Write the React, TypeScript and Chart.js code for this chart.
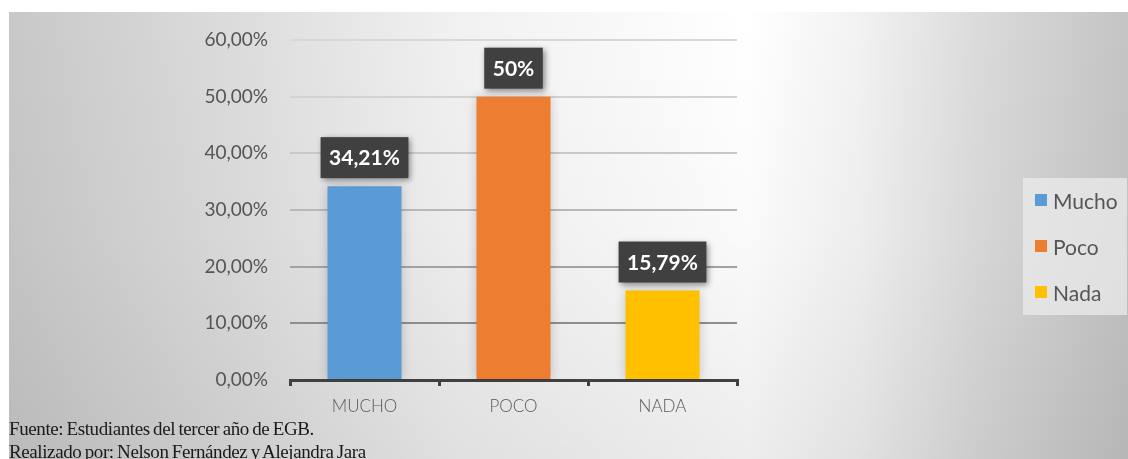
import React, { useEffect, useRef } from "react";
import { Chart, registerables } from "chart.js";

Chart.register(...registerables);

const categories = ["MUCHO", "POCO", "NADA"];
const legendNames = ["Mucho", "Poco", "Nada"];
const values = [34.21, 50, 15.79];
const barColors = ["#5B9BD5", "#ED7D31", "#FFC000"];
const yMax = 60;
const yStep = 10;
const footerLines = [
  "Fuente: Estudiantes del tercer año de EGB.",
  "Realizado por: Nelson Fernández y Alejandra Jara",
];

const W = 1128;
const H = 459;

function fmtTick(v: number) {
  return v.toFixed(2).replace(".", ",") + "%";
}
function fmtLabel(v: number) {
  let s = v.toFixed(2);
  if (s.endsWith(".00")) s = s.slice(0, -3);
  return s.replace(".", ",") + "%";
}

const gridColors: Record<number, string> = {
  60: "#d8d8d8",
  50: "#d2d2d2",
  40: "#c8c8c8",
  30: "#b8b8b8",
  20: "#a2a2a2",
  10: "#8e8e8e",
  0: "#8e8e8e",
};

const labelPlugin = {
  id: "labelBoxes",
  beforeDatasetsDraw(chart: any) {
    const ctx = chart.ctx;
    ctx.save();
    ctx.shadowColor = "rgba(0,0,0,0.18)";
    ctx.shadowBlur = 10;
  },
  afterDatasetsDraw(chart: any) {
    const ctx = chart.ctx;
    ctx.restore();
    const meta = chart.getDatasetMeta(0);
    const data = chart.data.datasets[0].data as number[];
    meta.data.forEach((bar: any, i: number) => {
      const text = fmtLabel(data[i]);
      ctx.save();
      ctx.font = "bold 21px Lato, 'Open Sans', sans-serif";
      const tw = ctx.measureText(text).width;
      const bw = tw + 17;
      const bh = 41;
      const bx = bar.x - bw / 2;
      const by = bar.y - 8 - bh;
      ctx.shadowColor = "rgba(0,0,0,0.45)";
      ctx.shadowBlur = 6;
      ctx.shadowOffsetX = 2;
      ctx.shadowOffsetY = 2;
      ctx.fillStyle = "#404040";
      ctx.fillRect(bx, by, bw, bh);
      ctx.shadowColor = "transparent";
      ctx.fillStyle = "#ffffff";
      ctx.textAlign = "center";
      ctx.textBaseline = "middle";
      ctx.fillText(text, bar.x, by + bh / 2 + 1);
      ctx.restore();
    });
  },
};

export default function App() {
  const ref = useRef<HTMLCanvasElement | null>(null);

  useEffect(() => {
    if (!ref.current) return;
    const chart = new Chart(ref.current, {
      type: "bar",
      data: {
        labels: categories,
        datasets: [
          {
            data: values,
            backgroundColor: barColors,
            borderWidth: 0,
            categoryPercentage: 1,
            barPercentage: 0.497,
          },
        ],
      },
      options: {
        responsive: false,
        animation: false,
        layout: { padding: { top: 40, right: W - 737, left: 0, bottom: 0 } },
        plugins: {
          legend: { display: false },
          tooltip: { enabled: false },
        },
        scales: {
          x: {
            afterFit: (s: any) => {
              s.height = H - 380;
            },
            grid: {
              offset: true,
              drawOnChartArea: false,
              drawTicks: true,
              tickLength: 6,
              lineWidth: 3,
              color: "#404040",
            },
            border: { display: true, color: "#404040", width: 3 },
            ticks: {
              padding: 10,
              color: "#595959",
              font: { family: "Lato, 'Open Sans', sans-serif", size: 17, weight: "300" as any },
            },
          },
          y: {
            min: 0,
            max: yMax,
            afterFit: (s: any) => {
              s.width = 290;
            },
            grid: {
              drawTicks: false,
              lineWidth: 2,
              color: (c: any) => gridColors[Math.round(c.tick?.value ?? 0)] || "#c8c8c8",
            },
            border: { display: false },
            ticks: {
              stepSize: yStep,
              padding: 22,
              color: "#555555",
              font: { family: "Lato, 'Open Sans', sans-serif", size: 19 },
              callback: (v: any) => fmtTick(Number(v)),
            },
          },
        },
      },
      plugins: [labelPlugin],
    });
    return () => chart.destroy();
  }, []);

  return (
    <div
      style={{
        position: "fixed",
        left: 0,
        top: 0,
        width: W,
        height: H,
        background: "#ffffff",
        overflow: "hidden",
      }}
    >
      <div
        style={{
          position: "absolute",
          left: 9,
          top: 12,
          right: 0,
          bottom: 0,
          background:
            "linear-gradient(to bottom, rgba(0,0,0,0) 0%, rgba(0,0,0,0.02) 50%, rgba(0,0,0,0.07) 100%), linear-gradient(to right, #c8c8c8 0%, #dcdcdc 20%, #f1f1f1 40%, #ffffff 66%, #f2f2f2 76%, #dadada 87%, #c4c4c4 100%)",
        }}
      />
      <canvas
        ref={ref}
        width={W}
        height={H}
        style={{ position: "absolute", left: 0, top: 0, width: W, height: H }}
      />
      <div
        style={{
          position: "absolute",
          left: 1023,
          top: 178,
          width: 104,
          height: 137,
          background: "rgba(235,235,235,0.75)",
          fontFamily: "Lato, 'Open Sans', sans-serif",
          fontSize: 21,
          color: "#555555",
        }}
      >
        {legendNames.map((n, i) => (
          <div
            key={n}
            style={{
              position: "absolute",
              left: 12,
              top: 10 + i * 46,
              height: 24,
              display: "flex",
              alignItems: "center",
              whiteSpace: "nowrap",
            }}
          >
            <span
              style={{
                display: "inline-block",
                width: 12,
                height: 12,
                background: barColors[i],
                marginRight: 6,
              }}
            />
            {n}
          </div>
        ))}
      </div>
      <div
        style={{
          position: "absolute",
          left: 9,
          top: 417,
          fontFamily: "'Liberation Serif', 'DejaVu Serif', serif",
          fontSize: 19,
          lineHeight: "23px",
          color: "#1a1a1a",
          letterSpacing: "-0.4px",
          wordSpacing: "-1px",
          whiteSpace: "nowrap",
        }}
      >
        {footerLines.map((l) => (
          <div key={l}>{l}</div>
        ))}
      </div>
    </div>
  );
}
